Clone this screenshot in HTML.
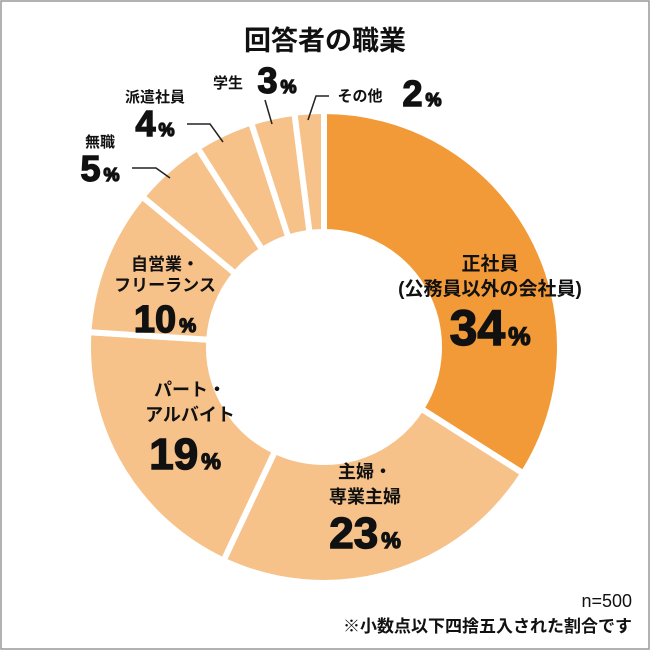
<!DOCTYPE html>
<html><head><meta charset="utf-8"><style>
html,body{margin:0;padding:0;background:#fff}
svg{display:block}
text{font-family:"Liberation Sans","Noto Sans CJK JP",sans-serif;font-weight:bold;fill:#111}
.num{stroke:#111;stroke-width:1.4}
</style></head><body>
<svg id="c" width="650" height="650" viewBox="0 0 650 650">
<rect x="1" y="1" width="648" height="648" fill="#fff" stroke="#999" stroke-width="1.5"/>
<text x="325" y="50" font-size="27" text-anchor="middle">回答者の職業</text>
<g id="slices"></g>
<g id="labels"></g>
<text x="632" y="607" font-size="18" text-anchor="end" style="font-weight:normal">n=500</text>
<text x="632" y="632" font-size="17" text-anchor="end">※小数点以下四捨五入された割合です</text>
</svg>
<script>
const categories=["正社員(公務員以外の会社員)","主婦・専業主婦","パート・アルバイト","自営業・フリーランス","無職","派遣社員","学生","その他"];
const values=[34,23,19,10,5,4,3,2];
const colors=["#F29A38","#F6C28A","#F6C28A","#F6C28A","#F6C28A","#F6C28A","#F6C28A","#F6C28A"];
const NS="http://www.w3.org/2000/svg";
const cx=324,cy=347,R=236,r=115;
const total=values.reduce((a,b)=>a+b,0);
function pt(a,rad){return [cx+rad*Math.sin(a),cy-rad*Math.cos(a)];}
const g=document.getElementById('slices');
let acc=0;
values.forEach((v,i)=>{
  const a0=acc/total*2*Math.PI, a1=(acc+v)/total*2*Math.PI; acc+=v;
  const [x0,y0]=pt(a0,R),[x1,y1]=pt(a1,R),[x2,y2]=pt(a1,r),[x3,y3]=pt(a0,r);
  const lg=(a1-a0)>Math.PI?1:0;
  const p=document.createElementNS(NS,'path');
  p.setAttribute('d',`M${x0},${y0}A${R},${R} 0 ${lg} 1 ${x1},${y1}L${x2},${y2}A${r},${r} 0 ${lg} 0 ${x3},${y3}Z`);
  p.setAttribute('fill',colors[i]);p.setAttribute('stroke','#fff');p.setAttribute('stroke-width','6');
  
  
  g.appendChild(p);
});
const L=document.getElementById('labels');
function t(x,y,s,str,anchor,name){const e=document.createElementNS(NS,'text');e.setAttribute('x',x);e.setAttribute('y',y);e.setAttribute('font-size',s);e.setAttribute('text-anchor',anchor||'middle');e.textContent=str;


L.appendChild(e);return e;}
function pct(x,y,s,v,name){const e=t(x,y,s,'','middle',name);e.setAttribute('class','num');const a=document.createElementNS(NS,'tspan');a.textContent=v;a.setAttribute('font-size',s);e.appendChild(a);const b=document.createElementNS(NS,'tspan');b.textContent='%';b.setAttribute('font-size',s*0.5);b.setAttribute('dx','3');e.appendChild(b);return e;}
function line(pts,name){const p=document.createElementNS(NS,'polyline');p.setAttribute('points',pts);p.setAttribute('fill','none');p.setAttribute('stroke','#222');p.setAttribute('stroke-width','1.5');


L.appendChild(p);}
t(490,270,19,'正社員','middle','label-fulltime');
t(490,295,19,'(公務員以外の会社員)','middle','label-fulltime-sub');
pct(490,345,50,values[0],'value-fulltime');
t(365,478,18,'主婦・','middle','label-housewife');
t(365,503,18,'専業主婦','middle','label-housewife-2');
pct(365,548,44,values[1],'value-housewife');
t(190,396,18,'パート・','middle','label-parttime');
t(190,421,18,'アルバイト','middle','label-parttime-2');
pct(185,469,44,values[2],'value-parttime');
t(165,270,17,'自営業・','middle','label-selfemployed');
t(165,291,17,'フリーランス','middle','label-selfemployed-2');
pct(165,332,38,values[3],'value-selfemployed');
t(100,147,15,'無職','middle','label-unemployed');
pct(100,181,36,values[4],'value-unemployed');
line('132,168 156,168 170,178','leader-unemployed');
t(155,102,15,'派遣社員','middle','label-dispatch');
pct(155,136,36,values[5],'value-dispatch');
line('187,124 210,124 223,142','leader-dispatch');
t(228,88,15,'学生','middle','label-student');
pct(277,93,36,values[6],'value-student');
line('265,100 272,124','leader-student');
t(360,101,15,'その他','middle','label-other');
pct(422,106,36,values[7],'value-other');
line('329,96 316,96 308,120','leader-other');
</script>
</body></html>
